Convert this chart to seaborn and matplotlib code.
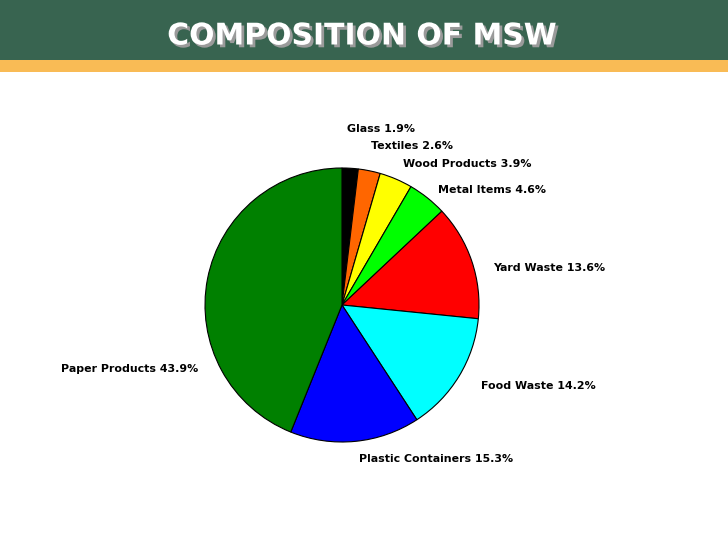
import numpy as np
import matplotlib
matplotlib.use("Agg")
import matplotlib.pyplot as plt
import matplotlib.patheffects as pe
import seaborn as sns

# donnees du camembert (sens horaire depuis le haut)
categories = ["Glass", "Textiles", "Wood Products", "Metal Items", "Yard Waste",
              "Food Waste", "Plastic Containers", "Paper Products"]
percents = [1.9, 2.6, 3.9, 4.6, 13.6, 14.2, 15.3, 43.9]
couleurs = ["#000000", "#FF6600", "#FFFF00", "#00FF00", "#FF0000",
            "#00FFFF", "#0000FF", "#008000"]
titre = "COMPOSITION OF MSW"

sns.set_style("white")
plt.rcParams['font.family'] = ['DejaVu Sans']

W, H = 728, 546
fig = plt.figure(figsize=(W / 100, H / 100), dpi=100)

# bandeau du titre
bandeau = fig.add_axes([0, 1 - 60 / H, 1, 60 / H])
bandeau.set_facecolor("#386450")
bandeau.set_xticks([]); bandeau.set_yticks([])
for s in bandeau.spines.values():
    s.set_visible(False)
bande = fig.add_axes([0, 1 - 72 / H, 1, 12 / H])
bande.set_facecolor("#F9BB55")
bande.set_xticks([]); bande.set_yticks([])
for s in bande.spines.values():
    s.set_visible(False)

fig.text(362 / W, 1 - 36 / H, titre, color="white", fontsize=21.5,
         fontweight="bold", ha="center", va="center",
         path_effects=[pe.SimplePatchShadow(offset=(2, -2), shadow_rgbFace="#9a9a9a", alpha=1),
                       pe.Normal()])

# camembert : centre (342, 305) rayon 137 px
r = 137
ax = fig.add_axes([(342 - r) / W, (H - 305 - r) / H, 2 * r / W, 2 * r / H])
ax.pie(percents, colors=sns.color_palette(couleurs), startangle=90,
       counterclock=False, radius=1,
       wedgeprops=dict(edgecolor="black", linewidth=0.8))
ax.set_xlim(-1, 1); ax.set_ylim(-1, 1)
ax.set_aspect("equal")
ax.axis("off")

# position des etiquettes (unites du rayon)
pos_lab = [(0.036, 1.285, "left"), (0.212, 1.161, "left"), (0.445, 1.029, "left"),
           (0.701, 0.839, "left"), (1.102, 0.270, "left"), (1.015, -0.591, "left"),
           (0.124, -1.124, "left"), (-1.051, -0.467, "right")]
for cat, p, (x, y, ha) in zip(categories, percents, pos_lab):
    ax.text(x, y, f"{cat} {p}%", ha=ha, va="center", fontsize=7.9,
            fontweight="bold", color="black")

fig.savefig("out.png", dpi=100)
